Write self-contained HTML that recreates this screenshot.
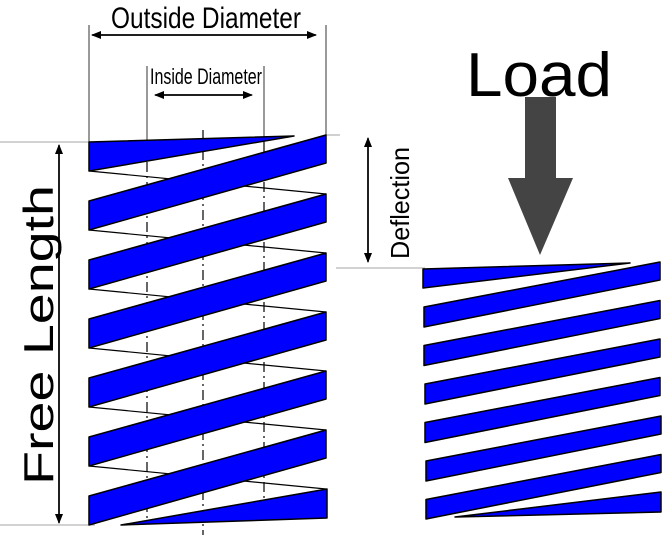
<!DOCTYPE html>
<html><head><style>html,body{margin:0;padding:0;background:#fff}svg{display:block}</style></head>
<body>
<svg width="664" height="535" viewBox="0 0 664 535" xmlns="http://www.w3.org/2000/svg" font-family="Liberation Sans, sans-serif">
<defs>
<marker id="a" markerWidth="10" markerHeight="8" refX="9" refY="4" orient="auto" markerUnits="userSpaceOnUse"><path d="M0,0 L10,4 L0,8 Z" fill="#000"/></marker>
</defs>
<g stroke="#000" stroke-width="0.8" fill="none">
<line x1="89" y1="25" x2="89" y2="142"/>
<line x1="326" y1="25" x2="326" y2="135"/>
<line x1="147" y1="66" x2="147" y2="142"/>
<line x1="264" y1="66" x2="264" y2="142"/>
<line x1="0" y1="142" x2="89" y2="142" stroke="#888"/>
<line x1="326" y1="135" x2="340" y2="135" stroke="#888"/>
<line x1="0" y1="525" x2="95" y2="525" stroke="#888"/>
<line x1="336" y1="268" x2="425" y2="268" stroke="#888"/>
</g>
<g stroke="#000" stroke-width="1.2" stroke-dasharray="10,4,2,4">
<line x1="147" y1="142" x2="147" y2="522"/>
<line x1="203" y1="130" x2="203" y2="535"/>
<line x1="264" y1="142" x2="264" y2="522"/>
</g>
<g stroke="#000" stroke-width="1.5">
<line x1="100" y1="35" x2="316" y2="35" marker-end="url(#a)"/>
<line x1="310" y1="35" x2="92" y2="35" marker-end="url(#a)"/>
<line x1="160" y1="95" x2="252" y2="95" marker-end="url(#a)"/>
<line x1="245" y1="95" x2="155" y2="95" marker-end="url(#a)"/>
<line x1="59" y1="520" x2="59" y2="145" marker-end="url(#a)"/>
<line x1="59" y1="150" x2="59" y2="523" marker-end="url(#a)"/>
<line x1="368" y1="255" x2="368" y2="138" marker-end="url(#a)"/>
<line x1="368" y1="145" x2="368" y2="262" marker-end="url(#a)"/>
</g>
<text x="206" y="28" font-size="30" text-anchor="middle" textLength="190" lengthAdjust="spacingAndGlyphs">Outside Diameter</text>
<text x="206" y="84" font-size="22" text-anchor="middle" textLength="112" lengthAdjust="spacingAndGlyphs">Inside Diameter</text>
<text transform="translate(53,335) rotate(-90)" font-size="42" text-anchor="middle" textLength="300" lengthAdjust="spacingAndGlyphs">Free Length</text>
<text transform="translate(409,203) rotate(-90)" font-size="26" text-anchor="middle" textLength="112" lengthAdjust="spacingAndGlyphs">Deflection</text>
<text x="539" y="96" font-size="62" text-anchor="middle" textLength="146" lengthAdjust="spacingAndGlyphs">Load</text>
<path d="M525,97 H556 V178 H573 L540,255 L508,178 H525 Z" fill="#444"/>
<g stroke="#000" stroke-width="1.2" fill="none">
<line x1="89" y1="171" x2="326" y2="194"/>
<line x1="89" y1="230" x2="326" y2="253"/>
<line x1="89" y1="289" x2="326" y2="312"/>
<line x1="89" y1="348" x2="326" y2="371"/>
<line x1="89" y1="407" x2="326" y2="430"/>
<line x1="89" y1="466" x2="326" y2="489"/>
</g>
<g fill="#0000ff" stroke="#000" stroke-width="1.5" stroke-linejoin="round">
<polygon points="89,142 294,136 89,171"/>
<polygon points="89,201 326,135 326,163 89,230"/>
<polygon points="89,260 326,194 326,222 89,289"/>
<polygon points="89,319 326,253 326,281 89,348"/>
<polygon points="89,378 326,312 326,340 89,407"/>
<polygon points="89,437 326,371 326,399 89,466"/>
<polygon points="89,496 326,430 326,458 89,525"/>
<polygon points="327,489 327,518 121,525"/>
<polygon points="423,269 630,263 423,288"/>
<polygon points="424,307 660,262 660,280 424,327"/>
<polygon points="424,345.5 660,300.5 660,318.5 424,365.5"/>
<polygon points="425,384 660,339 660,357 425,404"/>
<polygon points="425,422.5 660,377.5 660,395.5 425,442.5"/>
<polygon points="426,461 661,416 661,434 426,481"/>
<polygon points="426,499.5 661,454.5 661,472.5 426,519"/>
<polygon points="661,492 661,512 455,517"/>
</g>
</svg>
</body></html>
